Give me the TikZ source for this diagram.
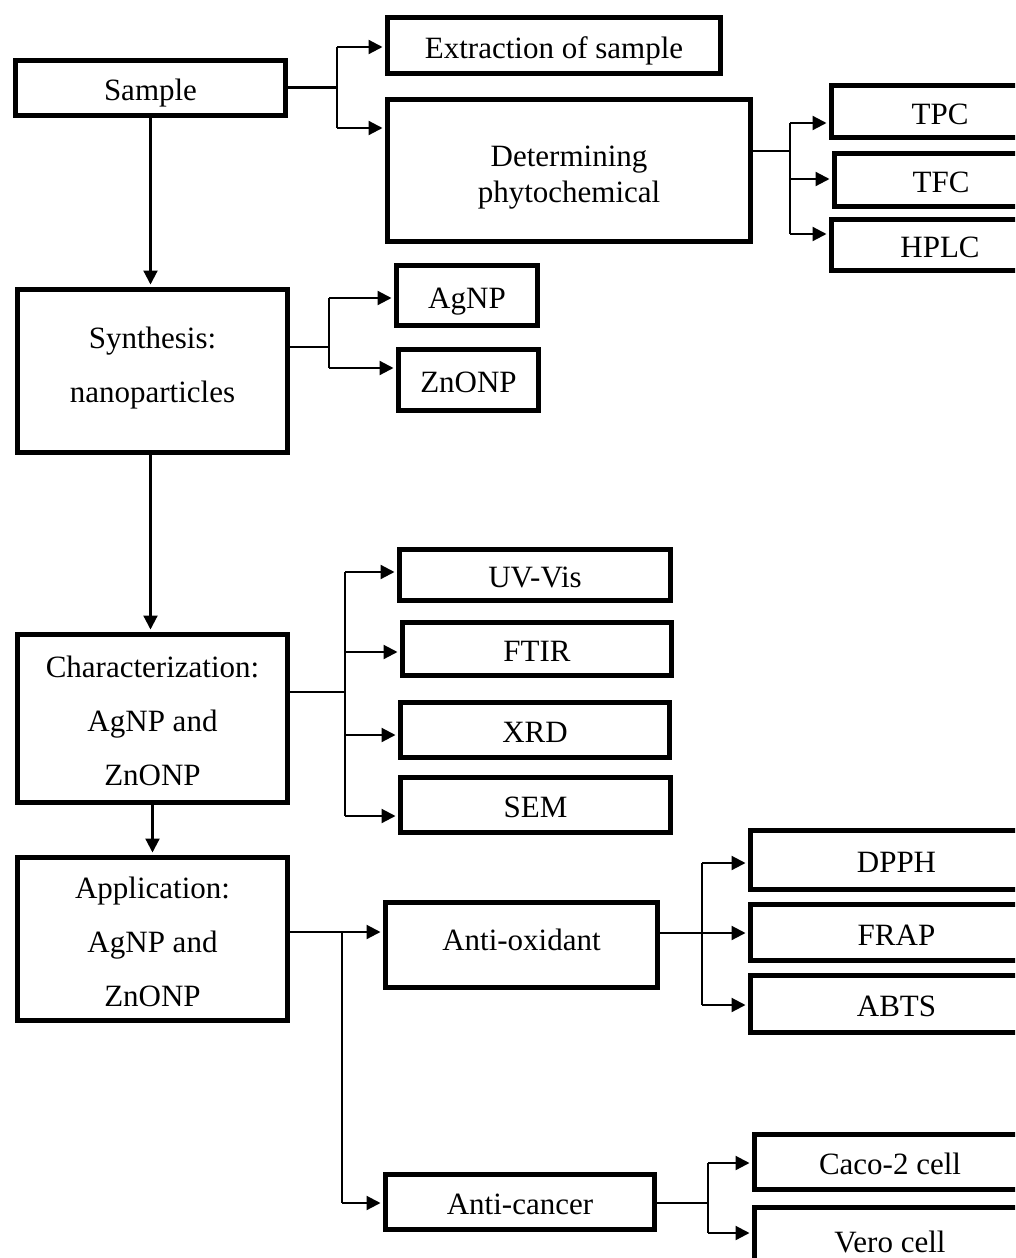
\documentclass[tikz,border=0pt]{standalone}
\usepackage{fontspec}
\setmainfont{Liberation Serif}
\usepackage{tikz,xcolor}
\usetikzlibrary{arrows.meta}
\tikzstyle{box} = [draw, line width=5pt, align=center, inner sep=0pt, text height=25pt, text depth=0pt, font=\fontsize{31}{36}\selectfont]
\tikzstyle{tall} = [font=\fontsize{31}{54}\selectfont]
\tikzset{link/.style={line width=2.2pt},
    arr/.style={line width=2.2pt, -{Triangle[length=14pt,width=14pt]}, shorten >=2.5pt}}

\begin{document}
\begin{tikzpicture}[x=1pt, y=-1pt]
    \useasboundingbox (0,0) rectangle (1015,1258);
    \clip (0,0) rectangle (1015,1258);
    % Main column
    \node[box, minimum width=270pt, minimum height=55pt] (sample) at (150.5,87.5) {Sample};
    \node[box, tall, text height=70pt, text depth=7pt, minimum width=270pt, minimum height=163pt] (syn) at (152.5,371) {Synthesis:\\nanoparticles};
    \node[box, tall, text height=140pt, text depth=6pt, minimum width=270pt, minimum height=168pt] (char) at (152.5,718.5) {Characterization:\\AgNP and\\ZnONP};
    \node[box, tall, text height=140pt, text depth=5pt, minimum width=270pt, minimum height=163pt] (app) at (152.5,939) {Application:\\AgNP and\\ZnONP};
    %
    \node[box, minimum width=333pt, minimum height=56pt] (ext) at (554,45.5) {Extraction of sample};
    \node[box, text height=70pt, text depth=6pt, minimum width=363pt, minimum height=142pt] (det) at (569,170.5) {Determining\\phytochemical};
    \node[box, minimum width=217pt, minimum height=52pt] (tpc) at (940,111.5) {TPC};
    \node[box, minimum width=213pt, minimum height=53pt] (tfc) at (941,180) {TFC};
    \node[box, minimum width=217pt, minimum height=51pt] (hplc) at (940,245) {HPLC};
    %
    \node[box, minimum width=141pt, minimum height=60pt] (agnp) at (467,295.5) {AgNP};
    \node[box, minimum width=140pt, minimum height=61pt] (znonp) at (468.5,380) {ZnONP};
    %
    \node[box, minimum width=271pt, minimum height=51pt] (uvvis) at (535,575) {UV-Vis};
    \node[box, minimum width=269pt, minimum height=53pt] (ftir) at (537,649) {FTIR};
    \node[box, minimum width=269pt, minimum height=55pt] (xrd) at (535,730) {XRD};
    \node[box, minimum width=270pt, minimum height=55pt] (sem) at (535.5,805) {SEM};
    %
    \node[box, text depth=14pt, minimum width=272pt, minimum height=85pt] (ox) at (521.5,945) {Anti-oxidant};
    \node[box, minimum width=269pt, minimum height=55pt] (ac) at (520,1202) {Anti-cancer};
    \node[box, minimum width=292pt, minimum height=59pt] (dpph) at (896.5,860) {DPPH};
    \node[box, minimum width=292pt, minimum height=56pt] (frap) at (896.5,932.5) {FRAP};
    \node[box, minimum width=292pt, minimum height=57pt] (abts) at (896.5,1004) {ABTS};
    \node[box, minimum width=271pt, minimum height=55pt] (caco) at (890,1162) {Caco-2 cell};
    \node[box, minimum width=271pt, minimum height=65pt] (vero) at (890,1240) {Vero cell};
    % Down the main column
    \draw[arr] (sample.south) -- (sample.south |- syn.north);
    \draw[arr] (sample.south |- syn.south) -- (sample.south |- char.north);
    \draw[arr] (char.south) -- (app.north);
    % Sample branch
    \coordinate (s1) at (337,47);
    \coordinate (s2) at (337,128);
    \draw[link] (sample.east) -- (sample.east -| s1);
    \draw[link] (s1) -- (s2);
    \draw[arr] (s1) -- (s1 -| ext.west);
    \draw[arr] (s2) -- (s2 -| det.west);
    % Phytochemical branch
    \coordinate (d0) at (790,151);
    \coordinate (d1) at (790,123);
    \coordinate (d2) at (790,179);
    \coordinate (d3) at (790,234);
    \draw[link] (d0 -| det.east) -- (d0);
    \draw[link] (d1) -- (d3);
    \foreach \c/\n in {d1/tpc, d2/tfc, d3/hplc}
        \draw[arr] (\c) -- (\c -| \n.west);
    % Synthesis branch
    \coordinate (g0) at (329,347);
    \coordinate (g1) at (329,298);
    \coordinate (g2) at (329,368);
    \draw[link] (g0 -| syn.east) -- (g0);
    \draw[link] (g1) -- (g2);
    \foreach \c/\n in {g1/agnp, g2/znonp}
        \draw[arr] (\c) -- (\c -| \n.west);
    % Characterization branch
    \coordinate (c0) at (345,692);
    \coordinate (c1) at (345,572);
    \coordinate (c2) at (345,652);
    \coordinate (c3) at (345,735);
    \coordinate (c4) at (345,816);
    \draw[link] (c0 -| char.east) -- (c0);
    \draw[link] (c1) -- (c4);
    \foreach \c/\n in {c1/uvvis, c2/ftir, c3/xrd, c4/sem}
        \draw[arr] (\c) -- (\c -| \n.west);
    % Application branch
    \coordinate (a0) at (342,932);
    \coordinate (a1) at (342,1203);
    \draw[link] (a0 -| app.east) -- (a0);
    \draw[arr] (a0) -- (a0 -| ox.west);
    \draw[link] (a0) -- (a1);
    \draw[arr] (a1) -- (a1 -| ac.west);
    % Anti-oxidant branch
    \coordinate (o0) at (702,933);
    \coordinate (o1) at (702,863);
    \coordinate (o3) at (702,1005);
    \draw[arr] (o0 -| ox.east) -- (o0 -| frap.west);
    \draw[link] (o1) -- (o3);
    \foreach \c/\n in {o1/dpph, o3/abts}
        \draw[arr] (\c) -- (\c -| \n.west);
    % Anti-cancer branch
    \coordinate (k0) at (708,1203);
    \coordinate (k1) at (708,1163);
    \coordinate (k2) at (708,1233);
    \draw[link] (k0 -| ac.east) -- (k0);
    \draw[link] (k1) -- (k2);
    \foreach \c/\n in {k1/caco, k2/vero}
        \draw[arr] (\c) -- (\c -| \n.west);
\end{tikzpicture}
\end{document}
